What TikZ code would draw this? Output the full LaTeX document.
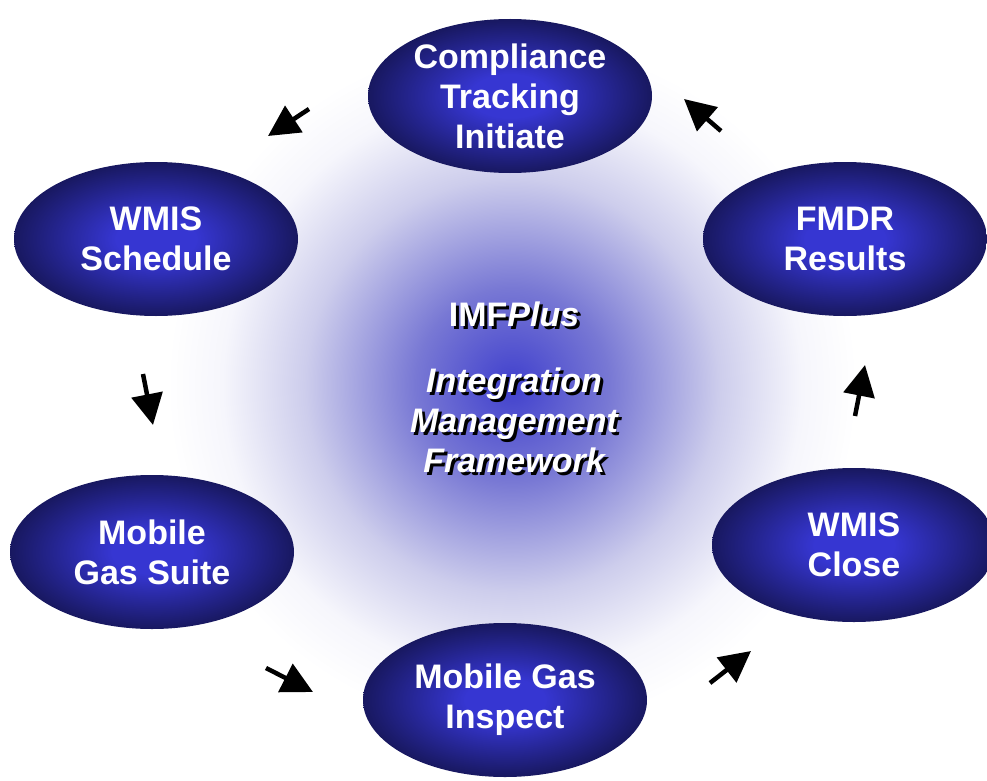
\documentclass[tikz,border=0pt]{standalone}
\usepackage{fontspec}
\setmainfont{Liberation Sans}
\usetikzlibrary{shapes.geometric,arrows.meta}
\definecolor{ellin}{RGB}{54,54,210}
\definecolor{ellout}{RGB}{24,24,96}
\definecolor{bga}{RGB}{64,64,205}
\definecolor{bgb}{RGB}{120,120,212}
\definecolor{bgc}{RGB}{205,205,236}
\definecolor{bgd}{RGB}{246,246,252}
\pgfdeclareradialshading{ellshade}{\pgfpoint{0bp}{0bp}}{color(0bp)=(ellin); color(7bp)=(ellin); color(25bp)=(ellout); color(50bp)=(ellout)}
\pgfdeclareradialshading{bgshade}{\pgfpoint{0bp}{0bp}}{color(0bp)=(bga); color(7bp)=(bgb); color(15bp)=(bgc); color(21bp)=(bgd); color(25bp)=(white); color(50bp)=(white)}
\tikzset{
  stage/.style={ellipse, shading=ellshade, minimum width=284pt, minimum height=154pt, inner sep=0pt,
    text=white, font=\bfseries\fontsize{34}{40}\selectfont, align=center},
  flow/.style={line width=4.5pt, -{Triangle[length=31pt,width=31pt]}},
  ctrtext/.style={font=\bfseries\itshape\fontsize{34}{40}\selectfont, align=center, inner sep=0pt}
}
\begin{document}
\begin{tikzpicture}[x=1pt,y=-1pt]
\useasboundingbox (0,0) rectangle (987,781);
\shade[shading=bgshade] (512,385) circle (345);
% centre text with shadow
\node[ctrtext, text=black] (ctrsh) at (517,390) {\upshape IMF\itshape Plus\\[26pt]Integration\\Management\\Framework};
\node[ctrtext, text=white] (ctr) at (514,387) {\upshape IMF\itshape Plus\\[26pt]Integration\\Management\\Framework};
% stages
\node[stage] (comp) at (510,96) {Compliance\\Tracking\\Initiate};
\node[stage] (sched) at (156,239) {WMIS\\Schedule};
\node[stage] (fmdr) at (845,239) {FMDR\\Results};
\node[stage] (suite) at (152,552) {Mobile\\Gas Suite};
\node[stage] (close) at (854,545) {WMIS\\Close};
\node[stage] (insp) at (505,700) {Mobile Gas\\Inspect};
% connectors
\coordinate (a1s) at (309,109); \coordinate (a1e) at (268,136);
\coordinate (a2s) at (721,131); \coordinate (a2e) at (684,99);
\coordinate (a3s) at (143,374); \coordinate (a3e) at (153,425);
\coordinate (a4s) at (855,416); \coordinate (a4e) at (865,365);
\coordinate (a5s) at (266,668); \coordinate (a5e) at (313,692);
\coordinate (a6s) at (710,683); \coordinate (a6e) at (751,651);
\draw[flow] (a1s) -- (a1e);
\draw[flow] (a2s) -- (a2e);
\draw[flow] (a3s) -- (a3e);
\draw[flow] (a4s) -- (a4e);
\draw[flow] (a5s) -- (a5e);
\draw[flow] (a6s) -- (a6e);
\end{tikzpicture}
\end{document}
